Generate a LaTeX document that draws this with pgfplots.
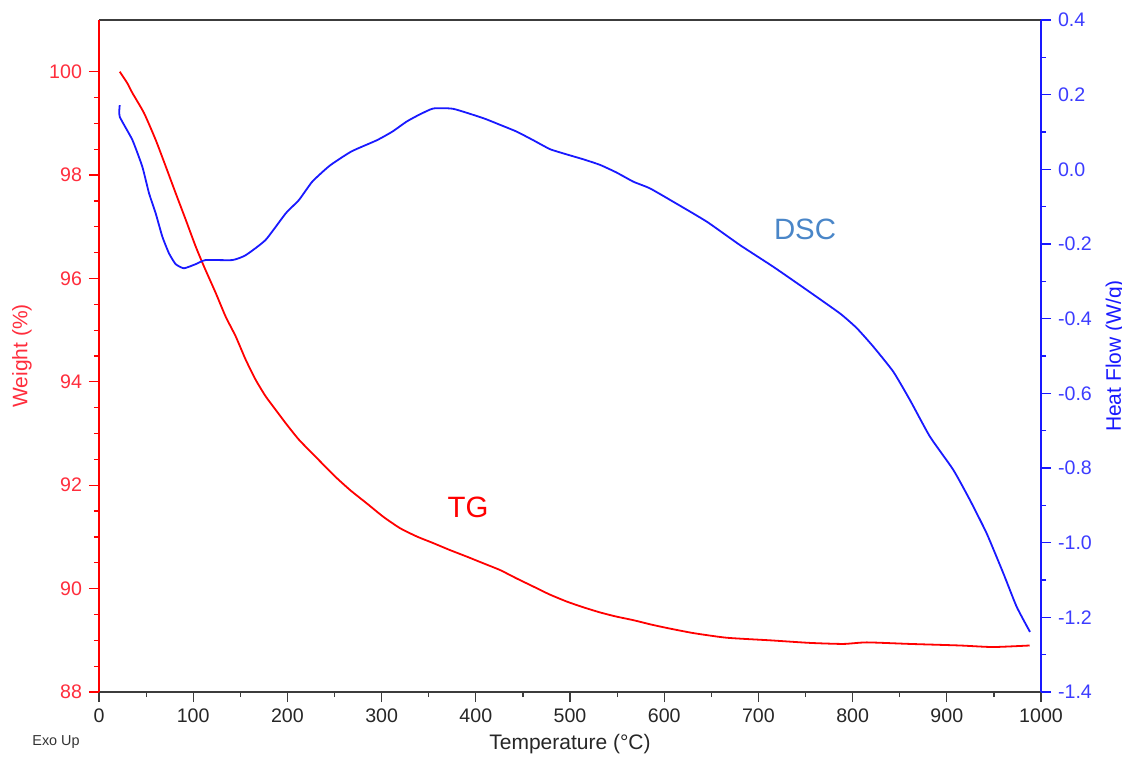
\documentclass[border=0pt]{standalone}
\usepackage{pgfplots}
\pgfplotsset{compat=1.18}
\usepackage{fontspec}
\setmainfont{Liberation Sans}
\definecolor{tgred}{RGB}{255,0,0}
\definecolor{tglab}{RGB}{255,45,60}
\definecolor{dscblue}{RGB}{25,25,255}
\definecolor{dsclab}{RGB}{60,60,255}
\definecolor{dsctext}{RGB}{74,134,200}
\definecolor{axgray}{RGB}{60,60,60}
\begin{document}
\begin{tikzpicture}
\useasboundingbox (-49.5pt,-32.5pt) rectangle (511.5pt,346pt);
\begin{axis}[
  at={(0pt,0pt)}, anchor=south west,
  scale only axis, width=471pt, height=336pt,
  xmin=0, xmax=1000, ymin=88, ymax=101,
  xtick={0,100,...,1000}, minor x tick num=1,
  ytick={88,90,...,100}, minor y tick num=3,
  xtick pos=bottom, ytick pos=left,
  separate axis lines,
  x axis line style={axgray, line width=0.7pt},
  y axis line style={tgred, line width=0.7pt},
  tick align=outside,
  major tick length=5pt, minor tick length=2.5pt,
  x tick style={axgray, line width=0.6pt},
  y tick style={tgred, line width=0.6pt},
  tick label style={font=\fontsize{9.8}{11}\selectfont},
  xticklabel style={text=black!85, /pgf/number format/1000 sep={}},
  yticklabel style={text=tglab},
  /pgf/number format/assume math mode=true,
  xlabel={Temperature (°C)},
  xlabel style={at={(axis description cs:0.5,-0.0774)}, anchor=center, font=\fontsize{10.5}{12}\selectfont, text=black!85},
  ylabel={Weight (\%)},
  ylabel style={at={(axis description cs:-0.0817,0.5)}, anchor=center, font=\fontsize{10.5}{12}\selectfont, text=tglab},
  clip=false,
]
\addplot[tgred, line width=0.9pt, smooth, tension=0.35] coordinates {
(22,100.00) (30,99.78) (35.4,99.59) (47.8,99.20) (60.2,98.68) (70.8,98.17)
(81.4,97.65) (92.0,97.14) (102.6,96.62) (111.5,96.23) (123.9,95.72) (134.5,95.26)
(145.1,94.88) (155.7,94.43) (166.3,94.04) (176.9,93.72) (187.5,93.46) (198.2,93.20)
(212.3,92.88) (230,92.55) (250,92.18) (267,91.90) (284.2,91.65) (301.8,91.39) (319.5,91.17)
(337.2,91.01) (354.9,90.88) (372,90.75)
(390.3,90.62) (408,90.49) (425.7,90.36) (443,90.20) (461.1,90.04) (478,89.89) (496.5,89.75) (514,89.64) (531.8,89.54) (549,89.46) (567.2,89.39)
(585,89.31) (602.6,89.24) (630.9,89.14) (666.3,89.05) (712.3,89.00) (754.8,88.95) (790.1,88.93)
(815,88.96) (861,88.93) (914,88.90) (949,88.87) (988,88.90)
};
\node[text=tgred, font=\fontsize{14.7}{16}\selectfont] at (axis cs:391.7,91.58) {TG};
\node[text=black!80, font=\fontsize{7.2}{8}\selectfont] at (axis description cs:-0.0456,-0.0744) {Exo Up};
\end{axis}
\begin{axis}[
  at={(0pt,0pt)}, anchor=south west,
  scale only axis, width=471pt, height=336pt,
  xmin=0, xmax=1000, ymin=-1.4, ymax=0.4,
  axis x line=none, axis y line*=right,
  ytick={-1.4,-1.2,-1.0,-0.8,-0.6,-0.4,-0.2,0,0.2,0.4}, minor y tick num=1,
  y axis line style={dscblue, line width=0.7pt, -},
  tick align=outside,
  major tick length=5pt, minor tick length=2.5pt,
  y tick style={dscblue, line width=0.6pt},
  tick label style={font=\fontsize{9.8}{11}\selectfont},
  yticklabel style={text=dsclab, /pgf/number format/.cd, fixed, fixed zerofill, precision=1},
  /pgf/number format/assume math mode=true,
  ylabel={Heat Flow (W/g)},
  ylabel style={at={(axis description cs:1.079,0.5)}, anchor=center, rotate=0, font=\fontsize{10.5}{12}\selectfont, text=dscblue},
  clip=false,
]
\addplot[dscblue, line width=0.9pt, smooth, tension=0.3] coordinates {
(22,0.172) (22,0.141) (35.4,0.079) (46,0.007) (53.1,-0.064) (60.2,-0.118)
(67.2,-0.180) (74.3,-0.225) (81.4,-0.254) (90.2,-0.265) (102.6,-0.254) (113.2,-0.243)
(141.5,-0.243) (155.7,-0.230) (176.9,-0.189) (198.2,-0.118) (212.3,-0.082) (226.4,-0.033)
(245,0.010) (268,0.048) (295,0.078) (311.4,0.101) (326.6,0.128) (339.7,0.146)
(354.9,0.163) (376.2,0.162) (408,0.137) (425,0.120) (443.4,0.101) (461,0.078) (478.8,0.054) (496.5,0.040)
(514,0.027) (531.8,0.012) (549,-0.008) (567.2,-0.033) (584.9,-0.051) (609.7,-0.087) (645.1,-0.140) (680.5,-0.203)
(715.8,-0.261) (751.3,-0.323) (786.6,-0.386) (804.3,-0.425) (822,-0.475) (843.2,-0.542)
(860.9,-0.618) (882.1,-0.716) (906.9,-0.805) (924.6,-0.886) (942.3,-0.975) (960,-1.082)
(974.2,-1.172) (988.3,-1.239)
};
\node[text=dsctext, font=\fontsize{14.7}{16}\selectfont] at (axis cs:749.5,-0.16) {DSC};
\end{axis}
\end{tikzpicture}
\end{document}
